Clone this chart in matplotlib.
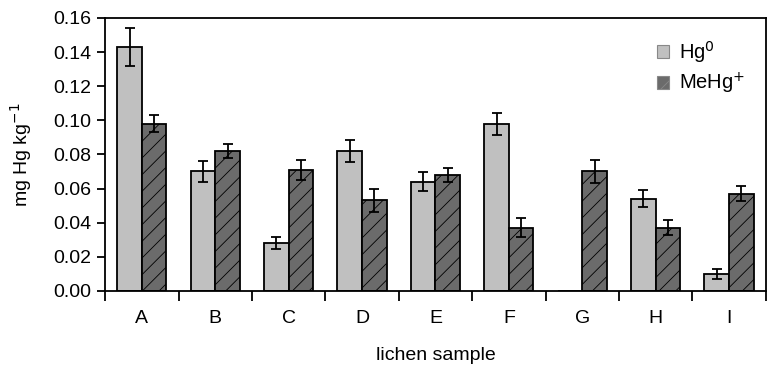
import matplotlib.pyplot as plt
import numpy as np

plt.rcParams['font.family'] = ['Liberation Sans', 'DejaVu Sans']
plt.rcParams['hatch.color'] = '#3a3a3a'
plt.rcParams['hatch.linewidth'] = 0.6

samples = ['A', 'B', 'C', 'D', 'E', 'F', 'G', 'H', 'I']
hg0 = [0.143, 0.070, 0.028, 0.082, 0.064, 0.098, 0.0, 0.054, 0.010]
hg0_err = [0.011, 0.006, 0.0035, 0.0065, 0.0055, 0.0065, 0.0, 0.005, 0.003]
mehg = [0.098, 0.082, 0.071, 0.053, 0.068, 0.037, 0.070, 0.037, 0.057]
mehg_err = [0.005, 0.004, 0.006, 0.0065, 0.004, 0.0055, 0.0065, 0.0045, 0.0045]

fig = plt.figure(figsize=(7.68, 3.65), dpi=100)
ax = fig.add_axes([0.137, 0.203, 0.860, 0.748])

x = np.arange(len(samples))
w = 0.335
ekw = dict(elinewidth=1.3, capthick=1.3)
ax.bar(x - w/2, hg0, w, color='#c0c0c0', edgecolor='black', linewidth=1.3,
       label='Hg$^0$', zorder=2)
ax.bar(x + w/2, mehg, w, color='#6b6b6b', edgecolor='black', linewidth=1.3,
       hatch='//', label='MeHg$^{+}$', zorder=2)
# error bars (skip G for Hg0, no value)
for i in range(len(samples)):
    if hg0[i] > 0:
        ax.errorbar(x[i] - w/2, hg0[i], yerr=hg0_err[i], fmt='none', ecolor='black',
                    capsize=3.5, zorder=3, **ekw)
    ax.errorbar(x[i] + w/2, mehg[i], yerr=mehg_err[i], fmt='none', ecolor='black',
                capsize=3.5, zorder=3, **ekw)

ax.set_xlim(-0.5, len(samples) - 0.5)
ax.set_ylim(0, 0.16)
ax.set_yticks(np.arange(0, 0.161, 0.02))
ax.set_yticklabels(['%.2f' % v for v in np.arange(0, 0.161, 0.02)], fontsize=14)

ax.set_xticks(x)
ax.set_xticklabels(samples, fontsize=14)
ax.tick_params(axis='x', length=0, pad=14)
ax.set_xticks(np.arange(-0.5, len(samples)), minor=True)
ax.tick_params(axis='x', which='minor', length=7, width=1.3, direction='out')
ax.tick_params(axis='y', length=6, width=1.3, direction='out', pad=4)

for s in ax.spines.values():
    s.set_linewidth(1.3)

ax.set_ylabel('mg Hg kg$^{-1}$', fontsize=14, labelpad=14)
ax.set_xlabel('lichen sample', fontsize=14, labelpad=14)

leg = ax.legend(loc='upper right', bbox_to_anchor=(0.997, 0.99), frameon=False,
                fontsize=14.5, handlelength=0.6, handleheight=0.6, handletextpad=0.5,
                labelspacing=0.3)
for h in leg.legend_handles:
    h.set_edgecolor('#888888')
    h.set_linewidth(0.8)

fig.savefig('out.png', dpi=100)
